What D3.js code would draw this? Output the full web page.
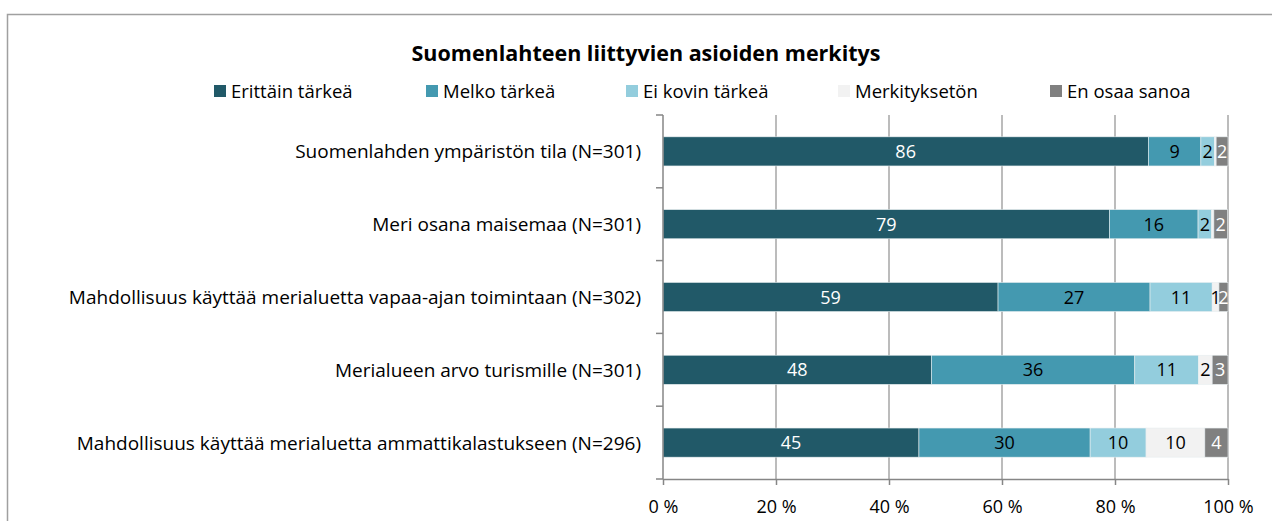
<!DOCTYPE html>
<html>
<head>
<meta charset="utf-8">
<script src="https://cdn.jsdelivr.net/npm/d3@7"></script>
<style>
  body { margin: 0; background: #fff; }
  svg { display: block; font-family: "Open Sans", Lato, sans-serif; }
</style>
</head>
<body>
<svg id="chart" width="1272" height="521"></svg>
<script>
// data (percentages)
const categories = [
  "Suomenlahden ympäristön tila (N=301)",
  "Meri osana maisemaa (N=301)",
  "Mahdollisuus käyttää merialuetta vapaa-ajan toimintaan (N=302)",
  "Merialueen arvo turismille (N=301)",
  "Mahdollisuus käyttää merialuetta ammattikalastukseen (N=296)"
];
const seriesNames = ["Erittäin tärkeä", "Melko tärkeä", "Ei kovin tärkeä", "Merkityksetön", "En osaa sanoa"];
const erittain = [85.9, 79.0, 59.3, 47.5, 45.3];
const melko    = [9.3, 15.7, 26.9, 36.0, 30.3];
const eiKovin  = [2.4, 2.4, 11.0, 11.3, 9.9];
const merkit   = [0.3, 0.4, 1.2, 2.4, 10.4];
const enOsaa   = [2.1, 2.4, 1.6, 2.8, 4.1];
const xTicks = [0, 20, 40, 60, 80, 100];

const colors = ["#215968", "#4499b0", "#93cddd", "#f2f2f2", "#808080"];
const labelColors = ["#fff", "#000", "#000", "#000", "#fff"];

const svg = d3.select("#chart");
const margin = {top: 115, right: 44, bottom: 42, left: 663};
const width = 1272 - margin.left - margin.right;
const height = 521 - margin.top - margin.bottom;

// outer chart border
svg.append("rect")
  .attr("x", 7.5).attr("y", 14.5)
  .attr("width", 1300).attr("height", 600)
  .attr("fill", "none").attr("stroke", "#a0a0a0").attr("stroke-width", 1.5);

svg.append("text")
  .attr("x", 646).attr("y", 61)
  .attr("text-anchor", "middle")
  .style("font-size", "21.5px").style("font-weight", "bold")
  .text("Suomenlahteen liittyvien asioiden merkitys");

// legend
const legendX = [214, 426, 626, 838, 1050];
const legend = svg.append("g");
seriesNames.forEach(function(name, i){
  legend.append("rect")
    .attr("x", legendX[i]).attr("y", 85)
    .attr("width", 12).attr("height", 12)
    .attr("fill", colors[i]);
  legend.append("text")
    .attr("x", legendX[i] + 17).attr("y", 97.5)
    .style("font-size", "18.5px")
    .text(name);
});

const rows = categories.map(function(c, i){
  return {cat: c, vals: [erittain[i], melko[i], eiKovin[i], merkit[i], enOsaa[i]]};
});

const x = d3.scaleLinear().domain([0, 100]).range([0, width]);
const y = d3.scaleBand().domain(categories).range([0, height]).paddingInner(0.6).paddingOuter(0.3);

const g = svg.append("g").attr("transform", "translate(" + margin.left + "," + margin.top + ")");

// vertical gridlines
g.selectAll(".grid").data(xTicks.slice(1)).enter().append("line")
  .attr("x1", d => x(d)).attr("x2", d => x(d))
  .attr("y1", 0).attr("y2", height)
  .attr("stroke", "#a6a6a6").attr("stroke-width", 1.5);

// stacked bars
rows.forEach(function(r){
  let acc = 0;
  r.vals.forEach(function(v, j){
    const x0 = acc;
    acc += v;
    g.append("rect")
      .attr("x", x(x0)).attr("y", y(r.cat))
      .attr("width", x(v)).attr("height", y.bandwidth())
      .attr("fill", colors[j])
      .attr("stroke", "#e8eef0").attr("stroke-width", 0.6);
    if (v >= 0.5) {
      g.append("text")
        .attr("x", x(x0 + v / 2)).attr("y", y(r.cat) + y.bandwidth() / 2 + 6.5)
        .attr("text-anchor", "middle")
        .style("font-size", "18px")
        .attr("fill", labelColors[j])
        .text(d3.format(".0f")(v));
    }
  });
});

// y axis
const yAxisLine = g.append("g");
yAxisLine.append("line")
  .attr("x1", 0).attr("x2", 0).attr("y1", 0).attr("y2", height)
  .attr("stroke", "#868686").attr("stroke-width", 1.5);
d3.range(categories.length + 1).forEach(function(i){
  const yy = i * height / categories.length;
  yAxisLine.append("line")
    .attr("x1", -7).attr("x2", 0).attr("y1", yy).attr("y2", yy)
    .attr("stroke", "#868686").attr("stroke-width", 1.5);
});
g.selectAll(".cat").data(categories).enter().append("text")
  .attr("x", -22).attr("y", d => y(d) + y.bandwidth() / 2 + 7)
  .attr("text-anchor", "end")
  .style("font-size", "19px")
  .text(d => d);

// x axis
const xAxis = g.append("g")
  .attr("transform", "translate(0," + height + ")")
  .call(d3.axisBottom(x).tickValues(xTicks).tickSize(6).tickSizeOuter(0).tickFormat(d => d + " %"));
xAxis.select(".domain").attr("stroke", "#868686").attr("stroke-width", 1.5);
xAxis.selectAll(".tick line").attr("stroke", "#868686").attr("stroke-width", 1.5);
xAxis.selectAll(".tick text")
  .attr("y", 21).attr("fill", "#000")
  .style("font-size", "18px").style("font-family", "'Open Sans', Lato, sans-serif");
</script>
</body>
</html>
